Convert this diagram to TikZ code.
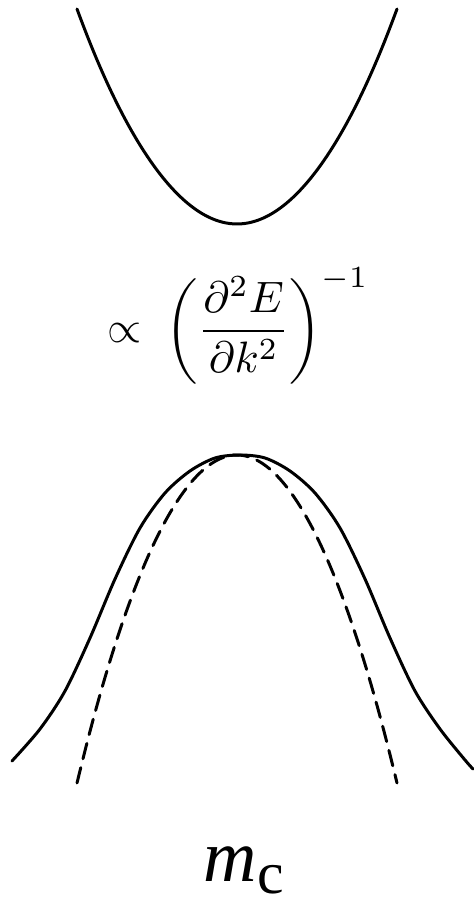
\documentclass[tikz,border=0pt]{standalone}
\usepackage{amsmath}
\usepackage{fontspec}
\newfontfamily\mcfont{Liberation Serif}
\tikzset{
  band/.style={line width=0.85pt,line cap=round},
  fitb/.style={band,dash pattern=on 4.5pt off 2.6pt},
  lbl/.style={inner sep=0pt}
}

\begin{document}
\begin{tikzpicture}[x=0.01cm,y=-0.01cm]
\useasboundingbox (0,0) rectangle (473,904);
% conduction band
\draw[band] (77,9) parabola bend (237,224) (397,9);
\node[lbl,scale=1.25] (ratio) at (238,326) {$\propto\;\left(\dfrac{\partial^2E}{\partial k^2}\right)^{-1}$};
% valence band and its parabolic fit
\draw[band] plot[smooth] coordinates {(12,761) (40,729) (65,691) (90,638) (115,579) (140,528) (165,493) (190,471) (215,458) (240,455) (265,458) (290,471) (315,493) (340,528) (365,579) (390,638) (415,691) (440,729) (465,760) (473,769)};
\draw[fitb] (77,783) parabola bend (237,455) (397,783);
\node[lbl,anchor=base west,font=\mcfont\fontsize{21}{24}\selectfont] (mc) at (203,881) {\textit{m}\raisebox{-3.5pt}{\fontsize{17}{20}\selectfont c}};
\end{tikzpicture}
\end{document}
